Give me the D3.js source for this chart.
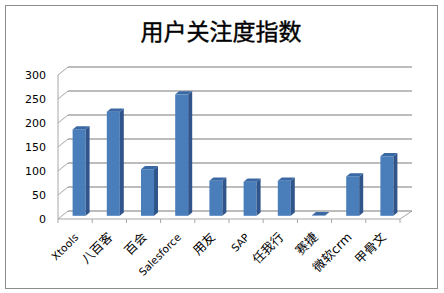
<!DOCTYPE html>
<html>
<head>
<meta charset="utf-8">
<script src="https://cdn.jsdelivr.net/npm/d3@7"></script>
<style>
  body { margin: 0; background: #fff; }
  svg text { font-family: "DejaVu Sans", "Noto Sans CJK SC", sans-serif; }
</style>
</head>
<body>
<div class="chart"></div>
<script>
var categories = ['Xtools', '八百客', '百会', 'Salesforce', '用友', 'SAP', '任我行', '赛捷', '微软crm', '甲骨文'];
var values = [180, 217, 97, 253, 73, 71, 73, 1, 82, 124];
var yTicks = [0, 50, 100, 150, 200, 250, 300];
var title = '用户关注度指数';

var w = 444, h = 293;
var svg = d3.select('.chart')
	.append('svg')
	.attr('width', w)
	.attr('height', h);

// outer frame
svg.append('rect')
	.attr('x', 5.5).attr('y', 5.5)
	.attr('width', 432).attr('height', 283)
	.style('fill', 'white')
	.style('stroke', '#8c8c8c')
	.style('stroke-width', 1);

svg.append('text')
	.attr('x', 221).attr('y', 40)
	.attr('text-anchor', 'middle')
	.style('font-family', '"Noto Sans CJK SC", sans-serif')
	.style('font-size', '23px')
	.style('font-weight', 'normal')
	.style('stroke', '#000')
	.style('stroke-width', 0.4)
	.text(title);

// 3d depth of the plot floor
var dx = 10, dy = -8;

var x = d3.scaleBand()
	.domain(categories)
	.range([58, 400]);

var y = d3.scaleLinear()
	.domain([0, 300])
	.range([219, 75]);

var grid = '#a6a6a6';

// back wall gridlines + left wall diagonals
svg.selectAll('.grid')
	.data(yTicks)
	.enter()
	.append('line')
	.attr('x1', 58 + dx).attr('x2', 400 + dx + 2)
	.attr('y1', function(d){ return y(d) + dy; })
	.attr('y2', function(d){ return y(d) + dy; })
	.style('stroke', grid)
	.style('stroke-width', 1.5);

svg.selectAll('.diag')
	.data(yTicks)
	.enter()
	.append('line')
	.attr('x1', 58).attr('x2', 58 + dx)
	.attr('y1', function(d){ return y(d); })
	.attr('y2', function(d){ return y(d) + dy; })
	.style('stroke', grid)
	.style('stroke-width', 1);

// floor edges
svg.append('line')
	.attr('x1', 400).attr('y1', y(0))
	.attr('x2', 400 + dx + 2).attr('y2', y(0) + dy)
	.style('stroke', grid).style('stroke-width', 1);

svg.append('line')
	.attr('x1', 58).attr('y1', y(0))
	.attr('x2', 400).attr('y2', y(0))
	.style('stroke', grid).style('stroke-width', 1);

// y axis
svg.append('line')
	.attr('x1', 58).attr('y1', y(300))
	.attr('x2', 58).attr('y2', y(0))
	.style('stroke', grid).style('stroke-width', 1);

svg.selectAll('.ylab')
	.data(yTicks)
	.enter()
	.append('text')
	.attr('x', 46)
	.attr('y', function(d){ return y(d) + 4; })
	.attr('text-anchor', 'end')
	.style('font-size', '11px')
	.text(function(d){ return d; });

// x ticks
svg.selectAll('.xtick')
	.data(categories.concat(['end']))
	.enter()
	.append('line')
	.attr('x1', function(d, i){ return 58 + i * x.bandwidth(); })
	.attr('x2', function(d, i){ return 58 + i * x.bandwidth(); })
	.attr('y1', y(0)).attr('y2', y(0) + 4)
	.style('stroke', grid).style('stroke-width', 1);

// bars
var bw = x.bandwidth() * 0.38;
var f0 = 0.4, fd = 0.4;
var ox = dx * f0, oy = dy * f0;
var sx = dx * fd, sy = dy * fd;

var bars = svg.selectAll('.bar')
	.data(categories)
	.enter()
	.append('g');

bars.append('rect')
	.attr('x', function(d){ return x(d) + x.bandwidth() / 2 - bw / 2 + ox; })
	.attr('y', function(d, i){ return y(values[i]) + oy; })
	.attr('width', bw)
	.attr('height', function(d, i){ return y(0) - y(values[i]); })
	.style('fill', '#4a7ebb');

bars.append('path')
	.attr('d', function(d, i){
		var x1 = x(d) + x.bandwidth() / 2 + bw / 2 + ox;
		var yt = y(values[i]) + oy, yb = y(0) + oy;
		return 'M' + x1 + ',' + yt + 'L' + (x1 + sx) + ',' + (yt + sy) +
			'L' + (x1 + sx) + ',' + (yb + sy) + 'L' + x1 + ',' + yb + 'Z';
	})
	.style('fill', '#2f558a');

bars.append('path')
	.attr('d', function(d, i){
		var x0 = x(d) + x.bandwidth() / 2 - bw / 2 + ox;
		var yt = y(values[i]) + oy;
		return 'M' + x0 + ',' + yt + 'L' + (x0 + bw) + ',' + yt +
			'L' + (x0 + bw + sx) + ',' + (yt + sy) + 'L' + (x0 + sx) + ',' + (yt + sy) + 'Z';
	})
	.style('fill', '#3a68a4');

// category labels
svg.selectAll('.xlab')
	.data(categories)
	.enter()
	.append('text')
	.attr('text-anchor', 'end')
	.attr('transform', function(d){
		return 'translate(' + (x(d) + x.bandwidth() / 2 + 4) + ',' + (y(0) + 19) + ') rotate(-45)';
	})
	.style('font-size', function(d){ return /[\u4e00-\u9fff]/.test(d) ? '12.5px' : '10.5px'; })
	.text(function(d){ return d; });
</script>
</body>
</html>
